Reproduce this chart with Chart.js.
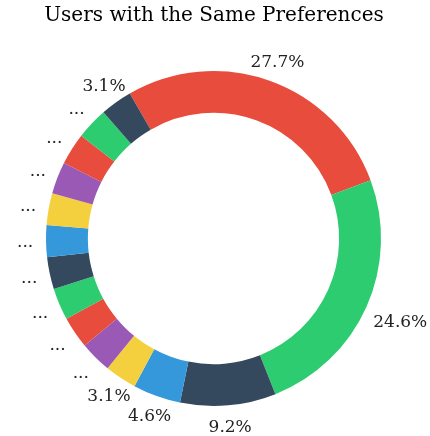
<!DOCTYPE html>
<html>
<head>
<meta charset="utf-8">
<script src="https://cdn.jsdelivr.net/npm/chart.js@4"></script>
<style>
  html, body { margin: 0; padding: 0; background: #fff; }
</style>
</head>
<body>
<canvas id="prefChart" width="430" height="436"></canvas>
<script>
const title = "Users with the Same Preferences";

// user counts per group (65 users total)
const groups = [
  "G1", "G2", "G3", "G4", "G5", "G6", "G7", "G8",
  "G9", "G10", "G11", "G12", "G13", "G14", "G15"
];
const userCounts = [18, 16, 6, 3, 2, 2, 2, 2, 2, 2, 2, 2, 2, 2, 2];

// text shown next to each slice
const sliceLabels = [
  "27.7%", "24.6%", "9.2%", "4.6%", "3.1%",
  "...", "...", "...", "...", "...", "...", "...", "...", "...",
  "3.1%"
];

const palette = ["#e74c3c", "#2ecc71", "#34495e", "#3498db", "#f4d03f", "#9b59b6"];

const outsideLabels = {
  id: "outsideLabels",
  afterDatasetsDraw(chart) {
    const ctx = chart.ctx;
    const meta = chart.getDatasetMeta(0);
    // the big right-hand label sits a little further out
    const extra = { 1: 16 };
    ctx.save();
    ctx.fillStyle = "#222";
    ctx.font = "17px 'DejaVu Serif'";
    ctx.textAlign = "center";
    ctx.textBaseline = "middle";
    meta.data.forEach((arc, i) => {
      const mid = (arc.startAngle + arc.endAngle) / 2;
      const r = arc.outerRadius * 1.125 + (extra[i] || 0);
      ctx.fillText(sliceLabels[i], arc.x + Math.cos(mid) * r, arc.y + Math.sin(mid) * r + 1);
    });
    ctx.font = "20px 'DejaVu Serif'";
    ctx.textBaseline = "alphabetic";
    ctx.fillStyle = "#000";
    ctx.fillText(title, 214, 21);
    ctx.restore();
  }
};

const ctx = document
  .getElementById("prefChart")
  .getContext("2d");

new Chart(ctx, {
  type: "doughnut",

  data: {
    labels: groups,

    datasets: [{
      data: userCounts,
      backgroundColor: groups.map((g, i) => palette[i % palette.length]),
      borderWidth: 0
    }]
  },

  options: {
    responsive: false,
    animation: false,
    rotation: -30,
    cutout: "75%",

    layout: {
      padding: { top: 71, bottom: 30, left: 46, right: 49 }
    },

    plugins: {
      legend: { display: false },
      tooltip: { enabled: false }
    }
  },

  plugins: [outsideLabels]
});
</script>
</body>
</html>
